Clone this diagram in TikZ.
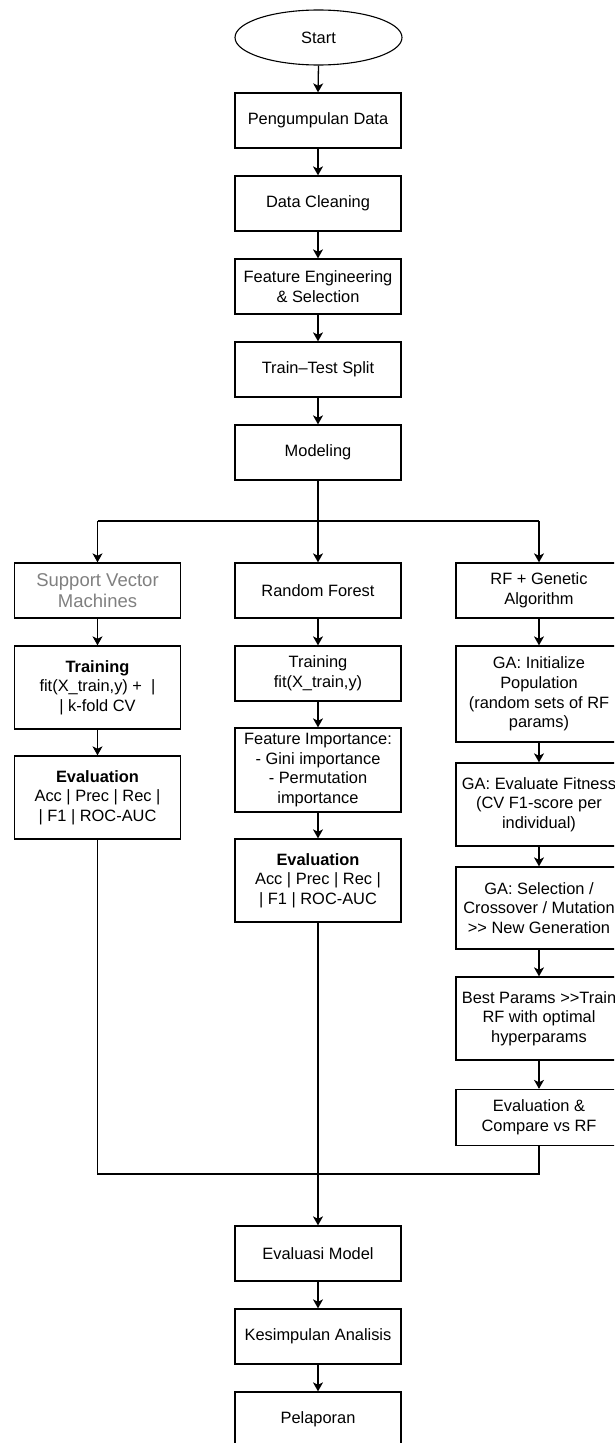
\documentclass[tikz,border=0pt]{standalone}
\usepackage{fontspec}
\newfontfamily\arialf{Liberation Sans}
\usetikzlibrary{arrows.meta,shapes.geometric}
\definecolor{svmgray}{HTML}{808080}
\begin{document}
\begin{tikzpicture}[x=1pt,y=-1pt,
  box/.style={draw=black,line width=1.3pt,rectangle,minimum width=166pt,inner sep=0pt,align=center,
    font=\arialf\fontsize{16.4pt}{19.7pt}\selectfont,text=black},
  arr/.style={line width=1.3pt,-{Stealth[length=9pt,width=10pt,inset=2.5pt]}},
  ln/.style={line width=1.3pt,line join=miter}]
\useasboundingbox (0,0) rectangle (614,1443);
\clip (0,0) rectangle (614,1443);
\fill[white] (0,0) rectangle (614,1443);

% centre column
\node[draw=black,line width=1.1pt,ellipse,minimum width=167pt,minimum height=55pt,inner sep=0pt,
  font=\arialf\fontsize{16.4pt}{19.7pt}\selectfont] (start) at (318.5,37.5) {Start};
\node[box,minimum height=55pt] (pd)  at (318,120.5) {Pengumpulan Data};
\node[box,minimum height=55pt] (dc)  at (318,203.5) {Data Cleaning};
\node[box,minimum height=55pt] (fe)  at (318,286.5) {Feature Engineering\\\& Selection};
\node[box,minimum height=55pt] (tts) at (318,369.5) {Train–Test Split};
\node[box,minimum height=55pt] (mod) at (318,452.5) {Modeling};

% left column
\node[box,minimum height=55pt,font=\arialf\fontsize{18.5pt}{21.5pt}\selectfont,text=svmgray] (svm) at (97.5,590.5) {Support Vector\\Machines};
\node[box,minimum height=83pt] (svtr) at (97.5,687.5) {{\bfseries Training}\\fit(X\_train,y) +\ \ |\\| k-fold CV};
\node[box,minimum height=83pt] (svev) at (97.5,797.5) {{\bfseries Evaluation}\\Acc | Prec | Rec |\\| F1 | ROC-AUC};

% middle column
\node[box,minimum height=55pt] (rf)   at (318,590.5) {Random Forest};
\node[box,minimum height=55pt] (rftr) at (318,673.5) {Training\\fit(X\_train,y)};
\node[box,minimum height=84pt] (fi)   at (318,770) {Feature Importance:\\- Gini importance\\- Permutation\\importance};
\node[box,minimum height=83pt] (rfev) at (318,880.5) {{\bfseries Evaluation}\\Acc | Prec | Rec |\\| F1 | ROC-AUC};

% right column
\node[box,minimum height=55pt] (ga)   at (539,590.5) {RF + Genetic\\Algorithm};
\node[box,minimum height=96pt] (gai)  at (539,694) {GA: Initialize\\Population\\(random sets of RF\\params)};
\node[box,minimum height=83pt] (gae)  at (539,804.5) {GA: Evaluate Fitness\\(CV F1-score per\\individual)};
\node[box,minimum height=82pt] (gas)  at (539,908) {GA: Selection /\\Crossover / Mutation\\>> New Generation};
\node[box,minimum height=83pt] (gab)  at (539,1018.5) {Best Params >>Train\\RF with optimal\\hyperparams};
\node[box,minimum height=56pt] (gaec) at (539,1117.5) {Evaluation \&\\Compare vs RF};

% bottom
\node[box,minimum height=55pt] (em)  at (318,1253.5) {Evaluasi Model};
\node[box,minimum height=55pt] (ka)  at (318,1336.5) {Kesimpulan Analisis};
\node[box,minimum height=55pt] (pel) at (318,1419.5) {Pelaporan};

% branch / merge points
\coordinate (bL) at (97.5,521);
\coordinate (bR) at (539,521);
\coordinate (mL) at (97.5,1174);
\coordinate (mR) at (539,1174);

\draw[arr] (start.south) -- (pd.north);
\draw[arr] (pd) -- (dc);
\draw[arr] (dc) -- (fe);
\draw[arr] (fe) -- (tts);
\draw[arr] (tts) -- (mod);
\draw[arr] (mod) -- (rf);
\draw[ln] (bL) -- (bR);
\draw[arr] (bL) -- (svm);
\draw[arr] (bR) -- (ga);

\draw[arr] (svm) -- (svtr);
\draw[arr] (svtr) -- (svev);

\draw[arr] (rf) -- (rftr);
\draw[arr] (rftr) -- (fi);
\draw[arr] (fi) -- (rfev);
\draw[arr] (rfev) -- (em);

\draw[arr] (ga) -- (gai);
\draw[arr] (gai) -- (gae);
\draw[arr] (gae) -- (gas);
\draw[arr] (gas) -- (gab);
\draw[arr] (gab) -- (gaec);

\draw[ln] (svev.south) -- (mL) -- (mR) -- (gaec.south);

\draw[arr] (em) -- (ka);
\draw[arr] (ka) -- (pel);
\end{tikzpicture}
\end{document}
